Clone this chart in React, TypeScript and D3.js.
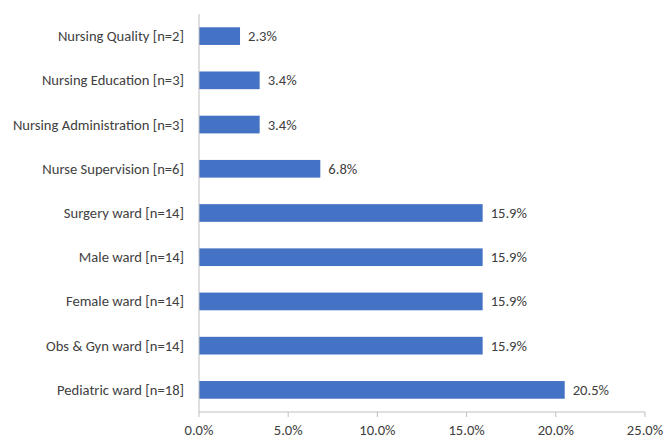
import React from "react";
import * as d3 from "d3";

const categories = [
  "Nursing Quality [n=2]",
  "Nursing Education [n=3]",
  "Nursing Administration [n=3]",
  "Nurse Supervision [n=6]",
  "Surgery ward [n=14]",
  "Male ward [n=14]",
  "Female ward [n=14]",
  "Obs & Gyn ward [n=14]",
  "Pediatric ward [n=18]",
];
const values = [2.3, 3.4, 3.4, 6.8, 15.9, 15.9, 15.9, 15.9, 20.5];
const xTicks = [0, 5, 10, 15, 20, 25];

export default function App() {
  const W = 665, H = 440;
  const left = 199, right = 645, top = 14, bottom = 412;
  const x = d3.scaleLinear().domain([0, 25]).range([left, right]);
  const y = d3.scaleBand<string>().domain(categories).range([top, bottom]).paddingInner(0.6).paddingOuter(0.3);
  const font = "Carlito, Lato, 'Open Sans', sans-serif";
  const fs = 14.6;
  const textColor = "#404040";
  return (
    <svg width={W} height={H} style={{ position: "absolute", left: 0, top: 0 }} fontFamily={font}>
      <rect width={W} height={H} fill="#fff" />
      {categories.map((c, i) => (
        <g key={c}>
          <rect x={x(0)} y={y(c)!} width={x(values[i]) - x(0)} height={y.bandwidth()} fill="#4472C4" />
          <text x={184} y={y(c)! + y.bandwidth() / 2 + 5} textAnchor="end" fontSize={fs} fill={textColor}>{c}</text>
          <text x={x(values[i]) + 8} y={y(c)! + y.bandwidth() / 2 + 5} fontSize={fs} fill={textColor}>{values[i].toFixed(1)}%</text>
        </g>
      ))}
      <line x1={left} x2={left} y1={top} y2={bottom} stroke="#bfbfbf" />
      <line x1={left} x2={right} y1={bottom} y2={bottom} stroke="#bfbfbf" />
      {xTicks.map((t) => (
        <g key={t}>
          <line x1={x(t)} x2={x(t)} y1={bottom} y2={bottom + 5} stroke="#bfbfbf" />
          <text x={x(t)} y={bottom + 23} textAnchor="middle" fontSize={fs} fill={textColor}>{t.toFixed(1)}%</text>
        </g>
      ))}
    </svg>
  );
}
